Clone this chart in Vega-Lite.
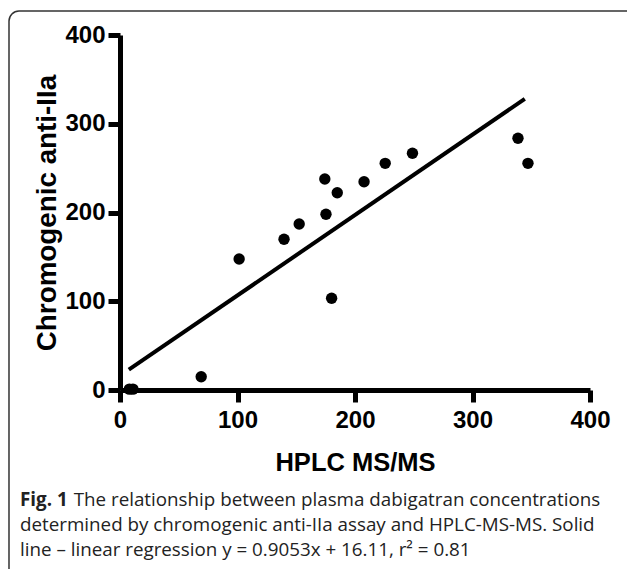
{
  "$schema": "https://vega.github.io/schema/vega-lite/v6.json",
  "autosize": "none",
  "width": 640,
  "height": 580,
  "padding": {"left": 9, "top": 11, "right": 0, "bottom": 0},
  "background": "white",
  "config": {
    "view": {"stroke": "#333333", "strokeWidth": 1.5, "cornerRadius": 10, "fill": "white"}
  },
  "title": {
    "text": "Fig. 1",
    "subtitle": [
      "\u200b\u00a0\u00a0\u00a0\u00a0\u00a0\u00a0\u00a0\u00a0\u00a0\u00a0\u00a0The relationship between plasma dabigatran concentrations",
      "determined by chromogenic anti-IIa assay and HPLC-MS-MS. Solid",
      "line – linear regression y = 0.9053x + 16.11, r² = 0.81"
    ],
    "orient": "bottom",
    "anchor": "start",
    "frame": "group",
    "offset": -100,
    "dx": 11,
    "font": "Open Sans",
    "fontSize": 18.8,
    "fontWeight": "bold",
    "color": "#222222",
    "lineHeight": 18.8,
    "subtitleFont": "Open Sans",
    "subtitleFontSize": 18.8,
    "subtitleFontWeight": "normal",
    "subtitleColor": "#222222",
    "subtitleLineHeight": 25,
    "subtitlePadding": -18.8
  },
  "datasets": {
    "points": [
      {"hplc": 8, "chromo": 1},
      {"hplc": 11, "chromo": 1},
      {"hplc": 69.1, "chromo": 15.0},
      {"hplc": 101.4, "chromo": 147.6},
      {"hplc": 139.6, "chromo": 169.8},
      {"hplc": 152.5, "chromo": 187.0},
      {"hplc": 174.3, "chromo": 237.7},
      {"hplc": 175.3, "chromo": 198.0},
      {"hplc": 184.9, "chromo": 222.3},
      {"hplc": 180.1, "chromo": 103.3},
      {"hplc": 207.7, "chromo": 234.7},
      {"hplc": 225.7, "chromo": 255.4},
      {"hplc": 248.9, "chromo": 266.7},
      {"hplc": 338.7, "chromo": 283.6},
      {"hplc": 347.2, "chromo": 255.4}
    ],
    "fit": [
      {"hplc": 7.5, "chromo": 22.9},
      {"hplc": 344.5, "chromo": 328.0}
    ]
  },
  "layer": [
    {
      "data": {"name": "fit"},
      "mark": {"type": "line", "color": "black", "strokeWidth": 4, "strokeCap": "butt"},
      "encoding": {
        "x": {
          "field": "hplc", "type": "quantitative",
          "scale": {"domain": [0, 400], "range": [111, 581], "nice": false, "zero": false},
          "axis": {
            "orient": "bottom", "offset": -201,
            "values": [0, 100, 200, 300, 400],
            "title": "HPLC MS/MS", "grid": false,
            "domainColor": "black", "domainWidth": 5,
            "tickColor": "black", "tickWidth": 5, "tickSize": 12,
            "labelFont": "Liberation Sans", "labelFontWeight": "bold",
            "labelFontSize": 24, "labelColor": "black", "labelPadding": 6,
            "labelFlush": false, "labelOverlap": false,
            "titleFont": "Liberation Sans", "titleFontWeight": "bold",
            "titleFontSize": 25.5, "titleColor": "black", "titlePadding": 18
          }
        },
        "y": {
          "field": "chromo", "type": "quantitative",
          "scale": {"domain": [0, 400], "range": [379, 24], "nice": false, "zero": false},
          "axis": {
            "orient": "left", "offset": -111,
            "values": [0, 100, 200, 300, 400],
            "title": "Chromogenic anti-IIa", "grid": false,
            "domainColor": "black", "domainWidth": 5,
            "tickColor": "black", "tickWidth": 5, "tickSize": 12,
            "labelFont": "Liberation Sans", "labelFontWeight": "bold",
            "labelFontSize": 24, "labelColor": "black", "labelPadding": 3,
            "labelFlush": false, "labelOverlap": false,
            "titleFont": "Liberation Sans", "titleFontWeight": "bold",
            "titleFontSize": 27.8, "titleColor": "black", "titlePadding": 3
          }
        }
      }
    },
    {
      "data": {"name": "points"},
      "mark": {"type": "point", "filled": true, "shape": "circle", "size": 130, "color": "black", "opacity": 1},
      "encoding": {
        "x": {"field": "hplc", "type": "quantitative"},
        "y": {"field": "chromo", "type": "quantitative"}
      }
    }
  ]
}
